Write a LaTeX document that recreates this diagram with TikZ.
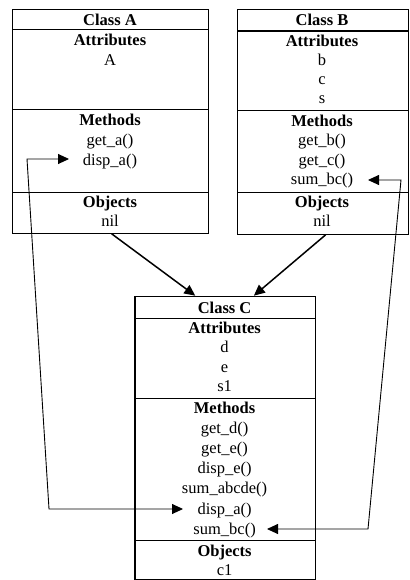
\documentclass[tikz,border=0pt]{standalone}
\usepackage{fontspec}
\setmainfont{Liberation Serif}
\usetikzlibrary{arrows.meta,calc}
\tikzset{
  comp/.style={draw, line width=1.3pt, inner sep=0pt, anchor=north west, rectangle},
  txt/.style={inner sep=0pt, anchor=base, font=\fontsize{16.5}{19.5}\selectfont},
  heavyarrow/.style={line width=1.5pt, -{Triangle[length=11pt,width=10pt]}},
  linkarrow/.style={line width=0.9pt, {Triangle[length=11pt,width=10pt]}-{Triangle[length=11pt,width=10pt]}}
}
\begin{document}
\begin{tikzpicture}[x=1pt,y=-1pt]
\useasboundingbox (0,0) rectangle (409,580);
% Class A compartments
\node[comp, minimum width=196pt, minimum height=20pt]   (A1) at (12,9) {};
\node[comp, minimum width=196pt, minimum height=80pt]   (A2) at (12,29) {};
\node[comp, minimum width=196pt, minimum height=83pt]   (A3) at (12,109) {};
\node[comp, minimum width=196pt, minimum height=40.5pt] (A4) at (12,192) {};
% Class B compartments
\node[comp, minimum width=170.5pt, minimum height=21.5pt] (B1) at (237,9) {};
\node[comp, minimum width=170.5pt, minimum height=79.5pt] (B2) at (237,30.5) {};
\node[comp, minimum width=170.5pt, minimum height=81.5pt] (B3) at (237,110) {};
\node[comp, minimum width=170.5pt, minimum height=42pt]   (B4) at (237,191.5) {};
% Class C compartments
\node[comp, minimum width=180.7pt, minimum height=22pt]   (C1) at (134.3,295.7) {};
\node[comp, minimum width=180.7pt, minimum height=80.3pt] (C2) at (134.3,317.7) {};
\node[comp, minimum width=180.7pt, minimum height=142pt]  (C3) at (134.3,398) {};
\node[comp, minimum width=180.7pt, minimum height=39pt]   (C4) at (134.3,540) {};
% Class A texts
\node[txt] (At) at (110,25.5) {\bfseries Class A};
\foreach \t [count=\i] in {{\bfseries Attributes}, A}
  \node[txt] (Aa\i) at (110,{46+19.5*(\i-1)}) {\t};
\foreach \t [count=\i] in {{\bfseries Methods}, get\_a(), disp\_a()}
  \node[txt] (Am\i) at (110,{126+19.8*(\i-1)}) {\t};
\foreach \t [count=\i] in {{\bfseries Objects}, nil}
  \node[txt] (Ao\i) at (110,{207+19.5*(\i-1)}) {\t};
% Class B texts
\node[txt] (Bt) at (322,25.5) {\bfseries Class B};
\foreach \t [count=\i] in {{\bfseries Attributes}, b, c, s}
  \node[txt] (Ba\i) at (322,{47+19*(\i-1)}) {\t};
\foreach \t [count=\i] in {{\bfseries Methods}, get\_b(), get\_c(), sum\_bc()}
  \node[txt] (Bm\i) at (322,{127+19*(\i-1)}) {\t};
\foreach \t [count=\i] in {{\bfseries Objects}, nil}
  \node[txt] (Bo\i) at (322,{207+19.5*(\i-1)}) {\t};
% Class C texts
\node[txt] (Ct) at (224.6,313) {\bfseries Class C};
\foreach \t [count=\i] in {{\bfseries Attributes}, d, e, s1}
  \node[txt] (Ca\i) at (224.6,{333+19.5*(\i-1)}) {\t};
\foreach \t [count=\i] in {{\bfseries Methods}, get\_d(), get\_e(), disp\_e(), sum\_abcde(), disp\_a(), sum\_bc()}
  \node[txt] (Cm\i) at (224.6,{413+20.2*(\i-1)}) {\t};
\foreach \t [count=\i] in {{\bfseries Objects}, c1}
  \node[txt] (Co\i) at (224.6,{556+19.5*(\i-1)}) {\t};
% inheritance arrows
\draw[heavyarrow] ($(A4.south west)!0.505!(A4.south east)$) -- ($(C1.north west)!0.335!(C1.north east)$);
\draw[heavyarrow] ($(B4.south west)!0.516!(B4.south east)$) -- ($(C1.north west)!0.657!(C1.north east)$);
% method links
\coordinate (LtipA) at (69,159);
\coordinate (Ltop)  at (27,159);
\coordinate (Lbot)  at (49,509);
\coordinate (LtipC) at (183,509);
\draw[linkarrow] (LtipA) -- (Ltop) -- (Lbot) -- (LtipC);
\coordinate (RtipB) at (368,180);
\coordinate (Rtop)  at (401,180);
\coordinate (Rbot)  at (368,529);
\coordinate (RtipC) at (267,529);
\draw[linkarrow] (RtipB) -- (Rtop) -- (Rbot) -- (RtipC);
\end{tikzpicture}
\end{document}
